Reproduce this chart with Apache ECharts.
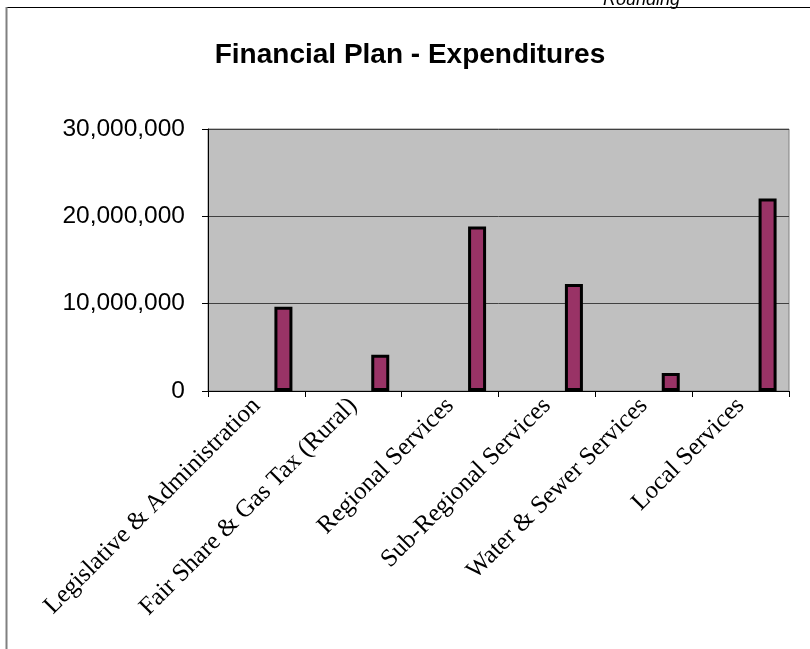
<!DOCTYPE html>
<html>
<head>
<meta charset="utf-8">
<script src="https://cdn.jsdelivr.net/npm/echarts/dist/echarts.min.js"></script>
<style>
html,body{margin:0;padding:0;background:#fff;}
#chart{width:810px;height:649px;}
</style>
</head>
<body>
<div id="chart"></div>
<script>
const categories = [
  "Legislative & Administration",
  "Fair Share & Gas Tax (Rural)",
  "Regional Services",
  "Sub-Regional Services",
  "Water & Sewer Services",
  "Local Services"
];
const expenditures = [9650000, 4150000, 18850000, 12250000, 2050000, 22050000];
const placeholder = [null, null, null, null, null, null];
const yTicks = [0, 10000000, 20000000, 30000000];
const titleText = "Financial Plan - Expenditures";
const cornerNote = "Rounding";

const chart = echarts.init(document.getElementById('chart'), null, {renderer: 'canvas'});

function fmt(v) {
  return String(v).replace(/\B(?=(\d{3})+(?!\d))/g, ',');
}

chart.setOption({
  animation: false,
  backgroundColor: '#ffffff',
  grid: {
    left: 208, top: 129, width: 581, height: 262,
    show: true, backgroundColor: '#C0C0C0', borderColor: '#808080', borderWidth: 1
  },
  xAxis: {
    type: 'category',
    data: categories,
    boundaryGap: true,
    axisLine: {show: true, lineStyle: {color: '#000', width: 1}},
    axisTick: {show: true, interval: 0, length: 6, alignWithLabel: false, lineStyle: {color: '#000'}},
    axisLabel: {
      interval: 0, rotate: 45, margin: 11,
      fontFamily: 'Liberation Serif', fontSize: 25, color: '#000'
    },
    splitLine: {show: false}
  },
  yAxis: {
    type: 'value',
    min: yTicks[0],
    max: yTicks[yTicks.length - 1],
    interval: yTicks[1] - yTicks[0],
    axisLine: {show: true, lineStyle: {color: '#000', width: 1}},
    axisTick: {show: true, length: 6, lineStyle: {color: '#000'}},
    axisLabel: {
      margin: 23, fontFamily: 'Arial, Liberation Sans', fontSize: 24.5, color: '#000',
      formatter: fmt
    },
    splitLine: {show: true, lineStyle: {color: '#404040', width: 1}}
  },
  series: [
    {
      type: 'bar', data: placeholder, barWidth: 18, barGap: '200%',
      itemStyle: {color: '#993366'}
    },
    {
      type: 'bar', data: expenditures, barWidth: 18, barGap: '200%',
      itemStyle: {color: '#993366', borderColor: '#000', borderWidth: 3}
    }
  ],
  graphic: [
    {
      type: 'line', silent: true,
      shape: {x1: 6, y1: 7.5, x2: 810, y2: 7.5},
      style: {stroke: '#000', lineWidth: 1}
    },
    {
      type: 'line', silent: true,
      shape: {x1: 6.5, y1: 7, x2: 6.5, y2: 649},
      style: {stroke: '#808080', lineWidth: 2}
    },
    {
      type: 'text', silent: true,
      style: {
        text: cornerNote, x: 680, y: 9, align: 'right', verticalAlign: 'bottom',
        font: 'italic 18px Arial, Liberation Sans', fill: '#000'
      }
    },
    {
      type: 'text', silent: true,
      style: {
        text: titleText, x: 410, y: 55, align: 'center', verticalAlign: 'middle',
        font: 'bold 28px Arial, Liberation Sans', fill: '#000'
      }
    }
  ]
});
</script>
</body>
</html>
